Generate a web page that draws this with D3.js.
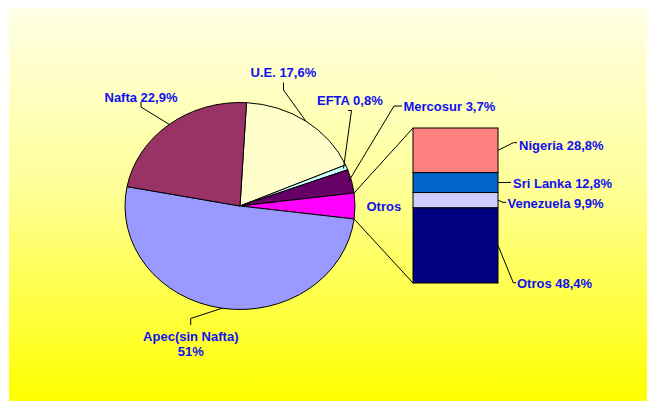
<!DOCTYPE html>
<html lang="es">
  <head>
    <meta charset="UTF-8" />
    <title>Bar of pie</title>
    <script src="https://d3js.org/d3.v7.min.js"></script>
    <style>
      body {
        margin: 0;
        background: #fff;
      }
      svg {
        display: block;
        font-family: "Liberation Sans", Arial, sans-serif;
      }
      text {
        font-size: 13px;
        font-weight: bold;
        fill: #1010f0;
        dominant-baseline: central;
      }
      .leader {
        fill: none;
        stroke: #000;
        stroke-width: 1px;
      }
    </style>
  </head>
  <body>
    <svg id="chart" width="647" height="401"></svg>
    <script>
      // pie slices, clockwise from the top
      const pieNames = ["U.E.", "EFTA", "Mercosur", "Otros", "Apec(sin Nafta)", "Nafta"];
      const pieValues = [17.6, 0.8, 3.7, 4.0, 51, 22.9];
      const pieLabels = ["U.E. 17,6%", "EFTA 0,8%", "Mercosur 3,7%", "Otros", "Apec(sin Nafta)\n51%", "Nafta 22,9%"];
      const pieColors = ["#ffffcc", "#ccffff", "#660066", "#ff00ff", "#9999ff", "#993366"];

      // breakdown of "Otros", top to bottom
      const barNames = ["Nigeria", "Sri Lanka", "Venezuela", "Otros"];
      const barValues = [28.8, 12.8, 9.9, 48.4];
      const barLabels = ["Nigeria 28,8%", "Sri Lanka 12,8%", "Venezuela 9,9%", "Otros 48,4%"];
      const barColors = ["#ff8080", "#0066cc", "#ccccff", "#000080"];

      const svg = d3.select("#chart");

      const grad = svg.append("defs").append("linearGradient")
        .attr("id", "bg").attr("x1", 0).attr("y1", 0).attr("x2", 0).attr("y2", 1);
      grad.append("stop").attr("offset", "0%").attr("stop-color", "#ffffe6");
      grad.append("stop").attr("offset", "45%").attr("stop-color", "#ffff99");
      grad.append("stop").attr("offset", "100%").attr("stop-color", "#ffff00");

      svg.append("rect")
        .attr("x", 9).attr("y", 8).attr("width", 638).attr("height", 393)
        .attr("fill", "url(#bg)");

      // pie geometry (slightly wider than tall, like the original)
      const cx = 240, cy = 206, rx = 115, ry = 103.5;
      const total = d3.sum(pieValues);
      const otrosIdx = 3;
      const before = d3.sum(pieValues.slice(0, otrosIdx)) + pieValues[otrosIdx] / 2;
      const start = Math.PI / 2 - (before / total) * 2 * Math.PI;

      const pie = d3.pie().sort(null).value((d) => d)
        .startAngle(start).endAngle(start + 2 * Math.PI);
      const arcs = pie(pieValues);
      const arc = d3.arc().innerRadius(0).outerRadius(ry);

      const pt = (a, k = 1) => [cx + rx * k * Math.sin(a), cy - ry * k * Math.cos(a)];

      const gPie = svg.append("g")
        .attr("transform", `translate(${cx},${cy}) scale(${rx / ry},1)`);
      gPie.selectAll("path")
        .data(arcs)
        .enter()
        .append("path")
        .attr("d", arc)
        .attr("fill", (d, i) => pieColors[i])
        .attr("stroke", "#000")
        .attr("stroke-width", 1)
        .attr("vector-effect", "non-scaling-stroke");

      // bar of "Otros"
      const barX = 413, barW = 85;
      const y = d3.scaleLinear().domain([0, d3.sum(barValues)]).range([128, 283]);
      const cum = d3.cumsum(barValues);
      const barData = barValues.map((v, i) => ({ v, i, y0: cum[i] - v, y1: cum[i] }));

      svg.append("g").selectAll("rect")
        .data(barData)
        .enter()
        .append("rect")
        .attr("x", barX)
        .attr("y", (d) => y(d.y0))
        .attr("width", barW)
        .attr("height", (d) => y(d.y1) - y(d.y0))
        .attr("fill", (d) => barColors[d.i])
        .attr("stroke", "#000")
        .attr("stroke-width", 1);

      // connector lines from the Otros slice to the bar
      const oa = arcs[otrosIdx];
      const lines = svg.append("g");
      lines.append("path").attr("class", "leader")
        .attr("d", d3.line()([pt(oa.startAngle), [barX, y(0)]]));
      lines.append("path").attr("class", "leader")
        .attr("d", d3.line()([pt(oa.endAngle), [barX, y(d3.sum(barValues))]]));

      // pie labels: text position and leader elbow
      const pieLayout = [
        { tx: 250.5, ty: 72, elbow: [[283.5, 82.5], [283.5, 90]], k: 1 },
        { tx: 317, ty: 100, elbow: [[348, 110.5], [351.5, 110.5]], k: 0.97 },
        { tx: 403.5, ty: 106, elbow: [[402, 106], [394, 106]], k: 0.97 },
        { tx: 366.5, ty: 206, elbow: null },
        { tx: 190.8, ty: 336, elbow: [[190.7, 325], [190.7, 318.5]], k: 1, mid: true },
        { tx: 104.5, ty: 96.5, elbow: [[141, 102], [141, 107]], k: 1 }
      ];

      arcs.forEach((a, i) => {
        const L = pieLayout[i];
        if (L.elbow) {
          const m = (a.startAngle + a.endAngle) / 2;
          lines.append("path").attr("class", "leader")
            .attr("d", d3.line()([...L.elbow, pt(m, L.k)]));
        }
        const t = svg.append("text")
          .attr("x", L.tx).attr("y", L.ty)
          .attr("text-anchor", L.mid ? "middle" : "start");
        pieLabels[i].split("\n").forEach((s, j) => {
          t.append("tspan").attr("x", L.tx).attr("dy", j ? 15 : 0).text(s);
        });
      });

      // bar labels
      const barLayout = [
        { tx: 519, ty: 145, elbow: [[513.3, 142.7], [517, 142.7]] },
        { tx: 513, ty: 183, elbow: [[511, 182.4]] },
        { tx: 507.5, ty: 203, elbow: [[503, 202.3], [506, 202.3]] },
        { tx: 517, ty: 283, elbow: [[513.3, 282.7], [516, 282.7]] }
      ];

      barData.forEach((d, i) => {
        const L = barLayout[i];
        const ym = y((d.y0 + d.y1) / 2);
        lines.append("path").attr("class", "leader")
          .attr("d", d3.line()([[barX + barW, ym], ...L.elbow]));
        svg.append("text").attr("x", L.tx).attr("y", L.ty).text(barLabels[i]);
      });
    </script>
  </body>
</html>
